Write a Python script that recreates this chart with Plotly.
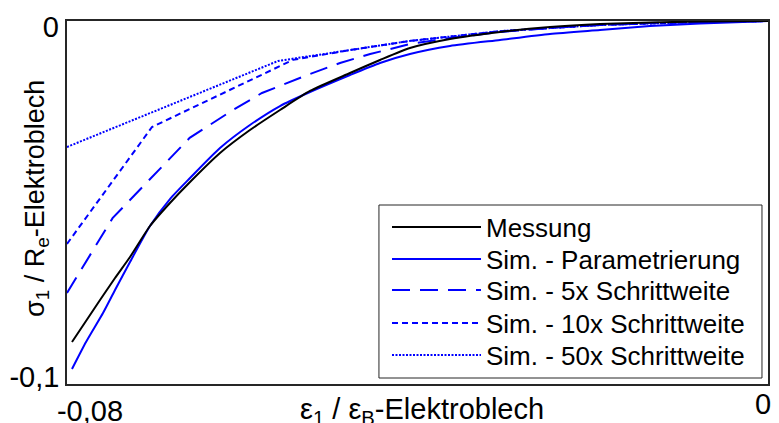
import plotly.graph_objects as go

# Data
x_mess = [-0.07943, -0.07783, -0.07623, -0.07452, -0.07281, -0.07053, -0.06825, -0.06596, -0.06254,
          -0.05912, -0.05569, -0.05227, -0.04770, -0.04428, -0.04086, -0.03629, -0.03058, -0.02488,
          -0.01917, -0.01347, -0.00776, 0.0]
y_mess = [-0.08843, -0.08264, -0.07686, -0.07080, -0.06501, -0.05647, -0.05014, -0.04435, -0.03636,
          -0.03003, -0.02452, -0.01928, -0.01433, -0.01074, -0.00744, -0.00496, -0.00303, -0.00165,
          -0.00083, -0.00041, -0.00014, 0.0]

x_param = [-0.07943, -0.07783, -0.07589, -0.07452, -0.07281, -0.07053, -0.06825, -0.06596, -0.06254,
           -0.05912, -0.05569, -0.05227, -0.04770, -0.04428, -0.04086, -0.03629, -0.03058, -0.02488,
           -0.01917, -0.01347, -0.00776, 0.0]
y_param = [-0.09587, -0.08843, -0.08044, -0.07410, -0.06639, -0.05647, -0.04904, -0.04325, -0.03499,
           -0.02865, -0.02342, -0.01956, -0.01488, -0.01157, -0.00909, -0.00689, -0.00523, -0.00358,
           -0.00248, -0.00138, -0.00069, 0.0]

x_5x = [-0.0800, -0.0748, -0.0660, -0.06106, -0.05775, -0.05227, -0.04884, -0.0454, -0.04086,
        -0.03629, -0.03058, -0.02488, -0.01917, -0.01347, -0.00776, 0.0]
y_5x = [-0.0749, -0.0543, -0.0322, -0.02452, -0.01983, -0.0146, -0.01157, -0.0091, -0.00634,
        -0.00468, -0.00303, -0.00193, -0.00110, -0.00055, -0.00028, 0.0]

x_10x = [-0.0800, -0.0703, -0.0542, -0.0477, -0.0409, -0.0306, -0.0192, -0.0078, 0.0]
y_10x = [-0.0614, -0.0292, -0.0107, -0.0080, -0.0055, -0.0028, -0.0011, -0.0003, 0.0]

x_50x = [-0.0800, -0.0559, -0.0477, -0.0409, -0.0306, -0.0192, -0.0078, 0.0]
y_50x = [-0.0347, -0.0110, -0.0080, -0.0055, -0.0028, -0.0011, -0.0003, 0.0]

series_names = ["Messung", "Sim. - Parametrierung", "Sim. - 5x Schrittweite",
                "Sim. - 10x Schrittweite", "Sim. - 50x Schrittweite"]

x_tickvals = [-0.08, 0]
x_ticktext = ["-0,08", "0"]
y_tickvals = [-0.1, 0]
y_ticktext = ["-0,1", "0"]

x_title = "ε<sub>1</sub> / ε<sub>B</sub>-Elektroblech"
y_title = "σ<sub>1</sub> / R<sub>e</sub>-Elektroblech"

FONT = "Liberation Sans, Arial, Helvetica"
BLUE = "#0000FF"

traces = [
    (x_mess, y_mess, dict(color="black", width=2, shape="spline", smoothing=0.6)),
    (x_param, y_param, dict(color=BLUE, width=2, shape="spline", smoothing=0.6)),
    (x_5x, y_5x, dict(color=BLUE, width=2, dash="18px,10px")),
    (x_10x, y_10x, dict(color=BLUE, width=2, dash="6px,4px")),
    (x_50x, y_50x, dict(color=BLUE, width=2, dash="2px,1.5px")),
]
legend_ids = ["legend", "legend2", "legend3", "legend4", "legend5"]
# the measurement is drawn on the overlay axes (identical ranges via "matches")
axis_pairs = [("x2", "y2"), ("x", "y"), ("x", "y"), ("x", "y"), ("x", "y")]

fig = go.Figure()
for (xs, ys, ln), name, lid, (xa, ya) in zip(traces, series_names, legend_ids, axis_pairs):
    fig.add_trace(go.Scatter(x=xs, y=ys, mode="lines", name=name, line=ln, legend=lid,
                             xaxis=xa, yaxis=ya))

tick_font = dict(family=FONT, size=29, color="#000")
axis_common = dict(showgrid=False, zeroline=False, ticks="", automargin=False, tickfont=tick_font)

# legend rows (pixel y of each row centre in the reference)
row_px = [227, 259, 290, 323, 355]
legend_layout = {}
for lid, py in zip(legend_ids, row_px):
    legend_layout[lid] = dict(x=0.4565, y=(384 - py) / 363, xanchor="left", yanchor="middle",
                              bgcolor="rgba(0,0,0,0)", borderwidth=0,
                              font=dict(family=FONT, size=26, color="#000"), itemwidth=89)

fig.update_layout(
    width=779, height=423,
    margin=dict(l=67, r=11, t=21, b=39, autoexpand=False),
    paper_bgcolor="white", plot_bgcolor="white",
    font=dict(family=FONT, color="#000"),
    showlegend=True,
    xaxis=dict(range=[-0.08, 0], tickvals=x_tickvals[:1], ticktext=x_ticktext[:1],
               ticklabelshift=23, showline=True, mirror=True, linecolor="#262626",
               linewidth=1.5, **axis_common),
    yaxis=dict(range=[-0.1, 0], tickvals=y_tickvals[:1], ticktext=y_ticktext[:1],
               ticklabelshift=-7, showline=True, mirror=True, linecolor="#262626",
               linewidth=1.5, **axis_common),
    xaxis2=dict(matches="x", overlaying="x", anchor="y", side="bottom",
                tickvals=x_tickvals[1:], ticktext=x_ticktext[1:], ticklabelshift=-5,
                showline=False, **axis_common),
    yaxis2=dict(matches="y", overlaying="y", anchor="x", side="left",
                tickvals=y_tickvals[1:], ticktext=y_ticktext[1:], ticklabelshift=6,
                ticklabelstandoff=7, showline=False, **axis_common),
    shapes=[dict(type="rect", xref="paper", yref="paper", x0=0.445, x1=0.9914,
                 y0=0.0165, y1=0.4931, line=dict(color="#262626", width=1),
                 fillcolor="white", layer="above")],
    annotations=[
        dict(text=x_title, xref="paper", yref="paper", x=0.507, y=-0.074,
             xanchor="center", yanchor="middle", showarrow=False,
             font=dict(family=FONT, size=29, color="#000")),
        dict(text=y_title, xref="paper", yref="paper", x=-0.043, y=0.512,
             xanchor="center", yanchor="middle", showarrow=False, textangle=-90,
             font=dict(family=FONT, size=27, color="#000")),
    ],
    **legend_layout,
)

fig.write_html("out.html", config={"displayModeBar": False},
               post_script="document.body.style.margin='0';")
